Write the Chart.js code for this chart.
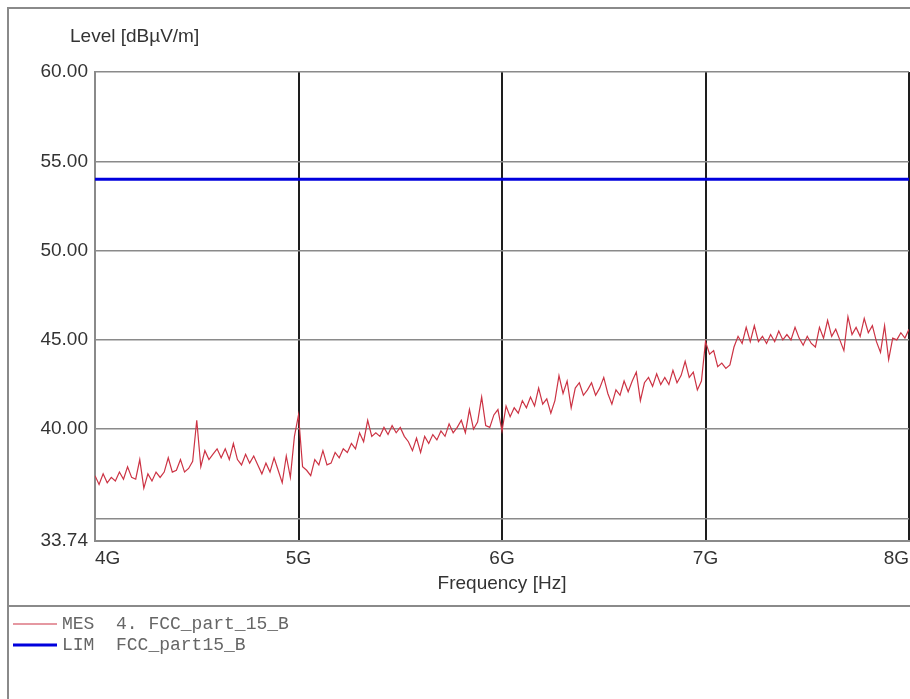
<!DOCTYPE html>
<html>
<head>
<meta charset="utf-8">
<script src="https://cdn.jsdelivr.net/npm/chart.js@4/dist/chart.umd.min.js"></script>
<style>
  html, body { margin: 0; padding: 0; background: #fff; }
  canvas { display: block; }
</style>
</head>
<body>
<canvas id="c" width="910" height="699"></canvas>
<script>
// ---- data ----
const freqStartHz = 4e9;      // sweep start
const freqStepHz = 0.02e9;    // sweep step
const mesValues = [
  37.4, 36.9, 37.5, 37.0, 37.3, 37.1, 37.6, 37.2, 37.9, 37.3,
  37.2, 38.3, 36.7, 37.5, 37.1, 37.6, 37.3, 37.6, 38.4, 37.6,
  37.7, 38.3, 37.6, 37.8, 38.2, 40.5, 37.9, 38.8, 38.3, 38.6,
  38.9, 38.4, 38.9, 38.3, 39.2, 38.3, 38.0, 38.6, 38.1, 38.5,
  38.0, 37.5, 38.1, 37.6, 38.4, 37.7, 37.0, 38.5, 37.3, 39.6,
  40.8, 37.9, 37.7, 37.4, 38.3, 38.0, 38.8, 38.0, 38.1, 38.7,
  38.4, 38.9, 38.7, 39.2, 38.9, 39.8, 39.3, 40.5, 39.6, 39.8,
  39.6, 40.1, 39.7, 40.2, 39.8, 40.1, 39.6, 39.3, 38.8, 39.5,
  38.7, 39.6, 39.2, 39.7, 39.4, 39.9, 39.6, 40.3, 39.8, 40.1,
  40.5, 39.8, 41.1, 40.0, 40.4, 41.8, 40.2, 40.1, 40.8, 41.1,
  39.9, 41.3, 40.7, 41.2, 40.9, 41.6, 41.2, 41.8, 41.3, 42.3,
  41.4, 41.7, 40.9, 41.6, 43.0, 42.0, 42.7, 41.2, 42.3, 42.6,
  41.9, 42.2, 42.6, 41.9, 42.3, 42.9, 42.0, 41.4, 42.2, 41.9,
  42.7, 42.1, 42.7, 43.2, 41.6, 42.6, 42.9, 42.4, 43.1, 42.5,
  42.9, 42.5, 43.3, 42.6, 43.0, 43.8, 42.9, 43.2, 42.2, 42.7,
  44.9, 44.2, 44.4, 43.5, 43.7, 43.4, 43.6, 44.6, 45.2, 44.8,
  45.7, 44.9, 45.8, 44.9, 45.2, 44.8, 45.3, 44.9, 45.5, 45.0,
  45.3, 45.0, 45.7, 45.1, 44.7, 45.2, 44.8, 44.6, 45.7, 45.1,
  46.1, 45.2, 45.6, 45.0, 44.4, 46.3, 45.3, 45.7, 45.2, 46.2,
  45.4, 45.8, 44.9, 44.3, 45.8, 43.9, 45.1, 45.0, 45.4, 45.1, 45.6
];
const limFreqs = [4e9, 8e9];
const limValues = [54.0, 54.0];
const yTickValues = [33.74, 35, 40, 45, 50, 55, 60];
const yUnlabeled = [35];
const xTickValues = [4e9, 5e9, 6e9, 7e9, 8e9];
const xTickLabels = ['4G', '5G', '6G', '7G', '8G'];
const mesLabel = 'MES  4. FCC_part_15_B';
const limLabel = 'LIM  FCC_part15_B';
const yTitle = 'Level [dB\u00B5V/m]';
const xTitle = 'Frequency [Hz]';

// ---- build ----
const mesPoints = mesValues.map((v, i) => ({ x: freqStartHz + i * freqStepHz, y: v }));
const limPoints = limValues.map((v, i) => ({ x: limFreqs[i], y: v }));

const SANS = '"Liberation Sans", Arial, sans-serif';
const MONO = '"Liberation Mono", "Courier New", monospace';

const framePlugin = {
  id: 'frame',
  beforeDraw(chart) {
    const ctx = chart.ctx;
    ctx.save();
    ctx.fillStyle = '#fff';
    ctx.fillRect(0, 0, chart.width, chart.height);
    ctx.strokeStyle = '#8a8a8a';
    ctx.lineWidth = 2;
    ctx.beginPath();
    ctx.moveTo(8, chart.height);
    ctx.lineTo(8, 8);
    ctx.lineTo(chart.width, 8);
    ctx.moveTo(8, 606);
    ctx.lineTo(chart.width, 606);
    ctx.stroke();
    ctx.restore();
  },
  afterDraw(chart) {
    const ctx = chart.ctx;
    ctx.save();
    ctx.font = '19px ' + SANS;
    ctx.fillStyle = '#333';
    ctx.textBaseline = 'middle';
    ctx.textAlign = 'left';
    ctx.fillText(yTitle, 70, 37);
    const rows = [624, 645];
    chart.data.datasets.forEach((ds, i) => {
      const y = rows[i];
      ctx.strokeStyle = ds.borderColor;
      ctx.lineWidth = ds.borderWidth;
      ctx.beginPath();
      ctx.moveTo(13, y);
      ctx.lineTo(57, y);
      ctx.stroke();
      ctx.font = '18px ' + MONO;
      ctx.fillStyle = '#666';
      ctx.textBaseline = 'middle';
      ctx.fillText(ds.label, 62, y);
    });
    ctx.restore();
  }
};

new Chart(document.getElementById('c'), {
  type: 'line',
  data: {
    datasets: [
      {
        label: mesLabel,
        data: mesPoints,
        borderColor: '#cc3344',
        borderWidth: 1.2,
        pointRadius: 0,
        tension: 0,
        order: 2
      },
      {
        label: limLabel,
        data: limPoints,
        borderColor: '#0000dd',
        borderWidth: 3,
        pointRadius: 0,
        tension: 0,
        order: 1
      }
    ]
  },
  options: {
    responsive: false,
    animation: false,
    devicePixelRatio: 1,
    layout: { padding: { top: 72, right: 1, bottom: 93, left: 0 } },
    plugins: {
      legend: { display: false },
      tooltip: { enabled: false },
      title: { display: false }
    },
    scales: {
      x: {
        type: 'linear',
        min: 4e9,
        max: 8e9,
        afterBuildTicks(scale) {
          scale.ticks = xTickValues.map(v => ({ value: v }));
        },
        afterFit(scale) {
          scale.height = 65;
          scale.paddingLeft = 0;
          scale.paddingRight = 0;
        },
        ticks: {
          autoSkip: false,
          maxRotation: 0,
          align: 'inner',
          padding: 6,
          color: '#333',
          font: { family: SANS, size: 19 },
          callback(v) {
            const i = xTickValues.indexOf(v);
            return i >= 0 ? xTickLabels[i] : '';
          }
        },
        grid: {
          drawTicks: false,
          color: ctx => (ctx.tick && ctx.tick.value === 4e9) ? '#8a8a8a' : '#1e1e1e',
          lineWidth: 2
        },
        border: { display: true, color: '#8a8a8a', width: 2 },
        title: {
          display: true,
          text: xTitle,
          color: '#333',
          font: { family: SANS, size: 19 },
          padding: { top: 0, bottom: 10.6 }
        }
      },
      y: {
        type: 'linear',
        min: 33.74,
        max: 60,
        afterBuildTicks(scale) {
          scale.ticks = yTickValues.map(v => ({ value: v }));
        },
        afterFit(scale) { scale.width = 95; },
        ticks: {
          autoSkip: false,
          padding: 7,
          color: '#333',
          font: { family: SANS, size: 19 },
          callback(v) {
            return yUnlabeled.includes(v) ? '' : Number(v).toFixed(2);
          }
        },
        grid: {
          drawTicks: false,
          color: '#8a8a8a',
          lineWidth: 1.5
        },
        border: { display: true, color: '#8a8a8a', width: 2 }
      }
    }
  },
  plugins: [framePlugin]
});
</script>
</body>
</html>
